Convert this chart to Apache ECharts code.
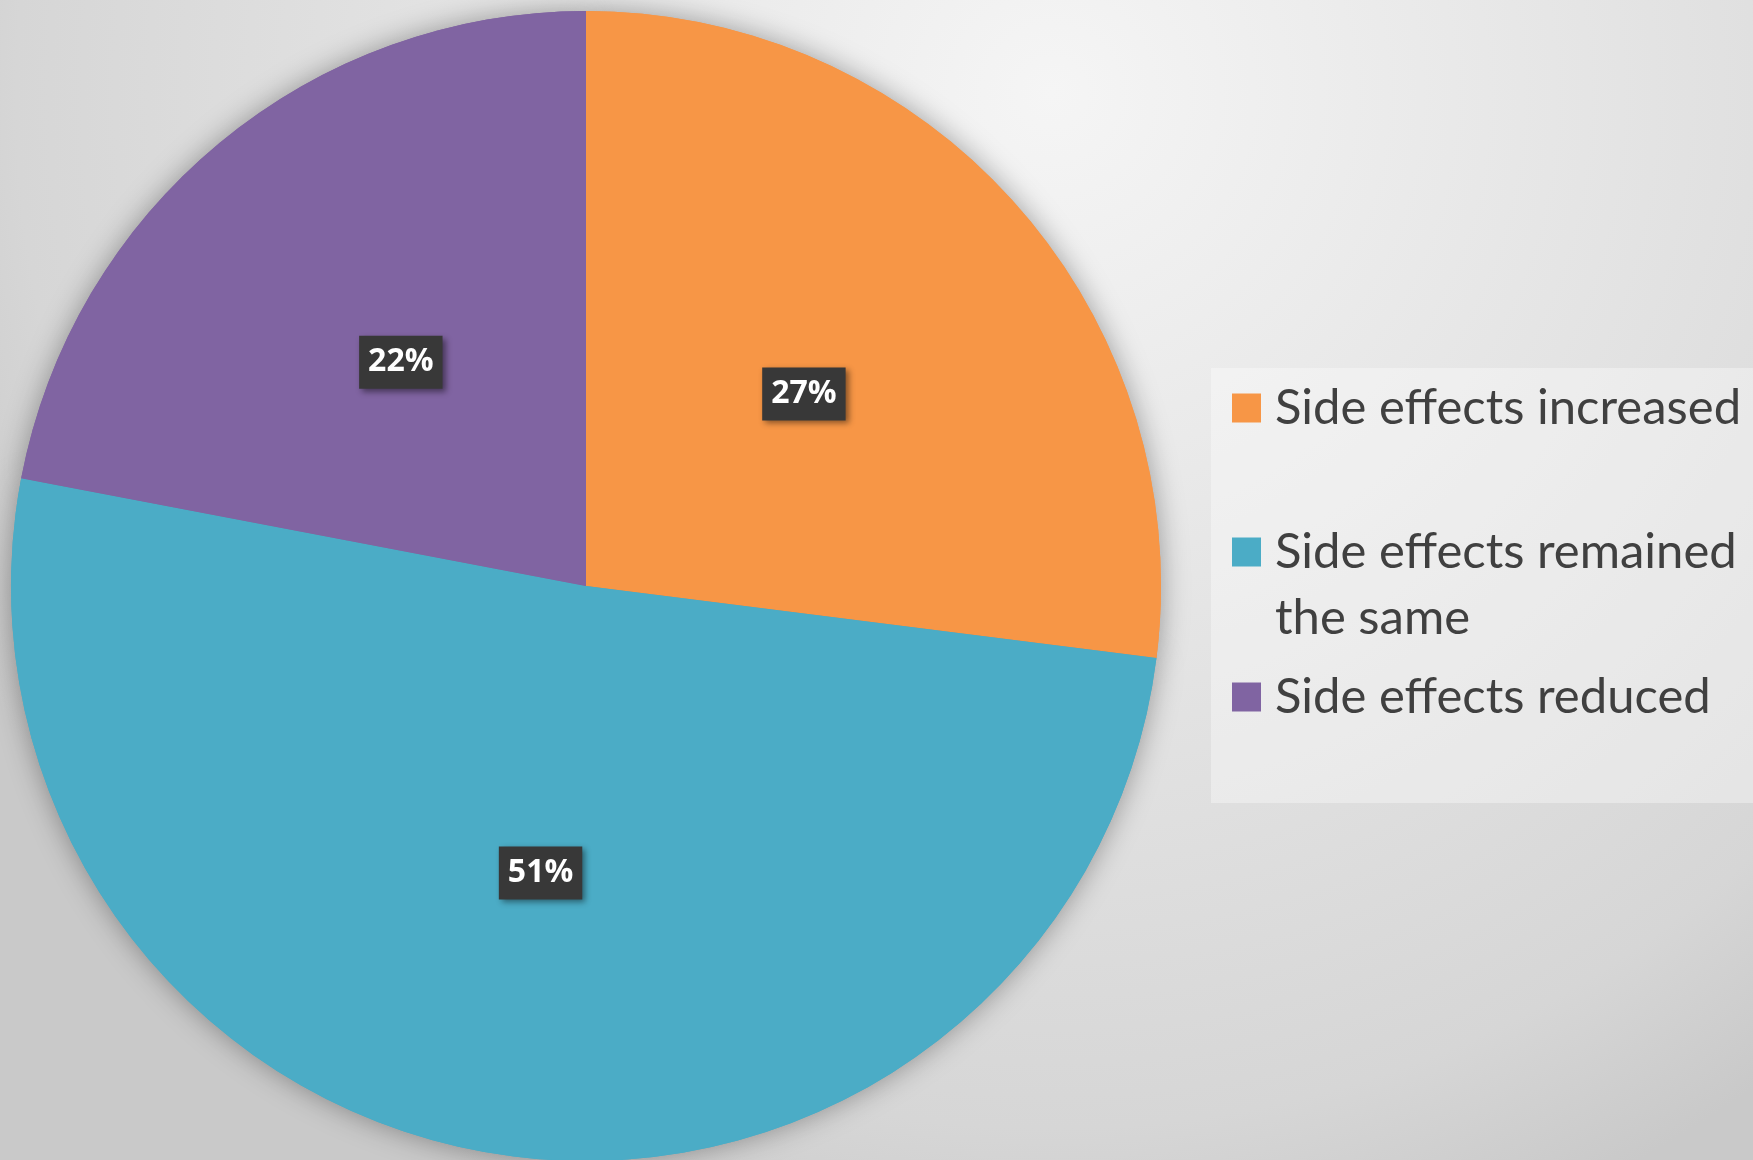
<!DOCTYPE html>
<html>
<head>
<meta charset="utf-8">
<script src="https://cdn.jsdelivr.net/npm/echarts@6/dist/echarts.min.js"></script>
<style>
  html, body { margin: 0; padding: 0; }
  #chart { width: 1753px; height: 1160px; }
</style>
</head>
<body>
<div id="chart"></div>
<script>
// data
var categories = ['Side effects increased', 'Side effects remained the same', 'Side effects reduced'];
// leading empty line keeps the marker level with the first line of the wrapped entry
var legendLabels = ['Side effects increased', '\nSide effects remained\nthe same', 'Side effects reduced'];
var shares = [27, 51, 22];
var colors = ['#F79646', '#4BACC6', '#8064A2'];

var pieData = [];
for (let i = 0; i < categories.length; i++) {
  pieData.push({ name: categories[i], value: shares[i], itemStyle: { color: colors[i] } });
}

var chart = echarts.init(document.getElementById('chart'));

// one legend per entry so the wrapped one can sit like the original
var legendTops = [375, 453, 664];
var legends = [];
for (let i = 0; i < categories.length; i++) {
  legends.push({
    data: [categories[i]],
    left: 1232,
    top: legendTops[i],
    orient: 'vertical',
    padding: 0,
    icon: 'rect',
    itemWidth: 29,
    itemHeight: 29,
    selectedMode: false,
    formatter: function (name) {
      return legendLabels[categories.indexOf(name)];
    },
    textStyle: {
      fontFamily: 'Lato',
      fontSize: 49,
      color: '#404040',
      lineHeight: 66,
      padding: [0, 0, 0, 9]
    }
  });
}

var option = {
  animation: false,
  backgroundColor: {
    type: 'radial',
    x: 0.6, y: 0.08, r: 1.05,
    colorStops: [
      { offset: 0, color: '#f5f5f5' },
      { offset: 0.55, color: '#e1e1e1' },
      { offset: 0.85, color: '#d6d6d6' },
      { offset: 1, color: '#c9c9c9' }
    ]
  },
  graphic: [
    {
      type: 'rect',
      z: -1,
      shape: { x: 1211, y: 368, width: 542, height: 435 },
      style: { fill: 'rgba(255,255,255,0.35)' }
    }
  ],
  legend: legends,
  series: [
    {
      // soft shadow underneath
      type: 'pie',
      silent: true,
      z: 1,
      center: [586, 586],
      radius: 575,
      startAngle: 90,
      data: pieData,
      label: { show: false },
      labelLine: { show: false },
      itemStyle: {
        shadowBlur: 28,
        shadowColor: 'rgba(0,0,0,0.35)'
      }
    },
    {
      type: 'pie',
      z: 2,
      center: [586, 586],
      radius: 575,
      startAngle: 90,
      data: pieData,
      itemStyle: { borderWidth: 0 },
      emphasis: { disabled: true },
      label: {
        show: true,
        position: 'inside',
        formatter: '{d}%',
        fontFamily: 'Open Sans',
        fontWeight: 'bold',
        fontSize: 32,
        lineHeight: 34,
        color: '#ffffff',
        backgroundColor: '#383838',
        padding: [10, 9, 9, 9],
        shadowColor: 'rgba(0,0,0,0.45)',
        shadowBlur: 6,
        shadowOffsetX: 3,
        shadowOffsetY: 3
      },
      labelLine: { show: false }
    }
  ]
};

chart.setOption(option);
</script>
</body>
</html>
